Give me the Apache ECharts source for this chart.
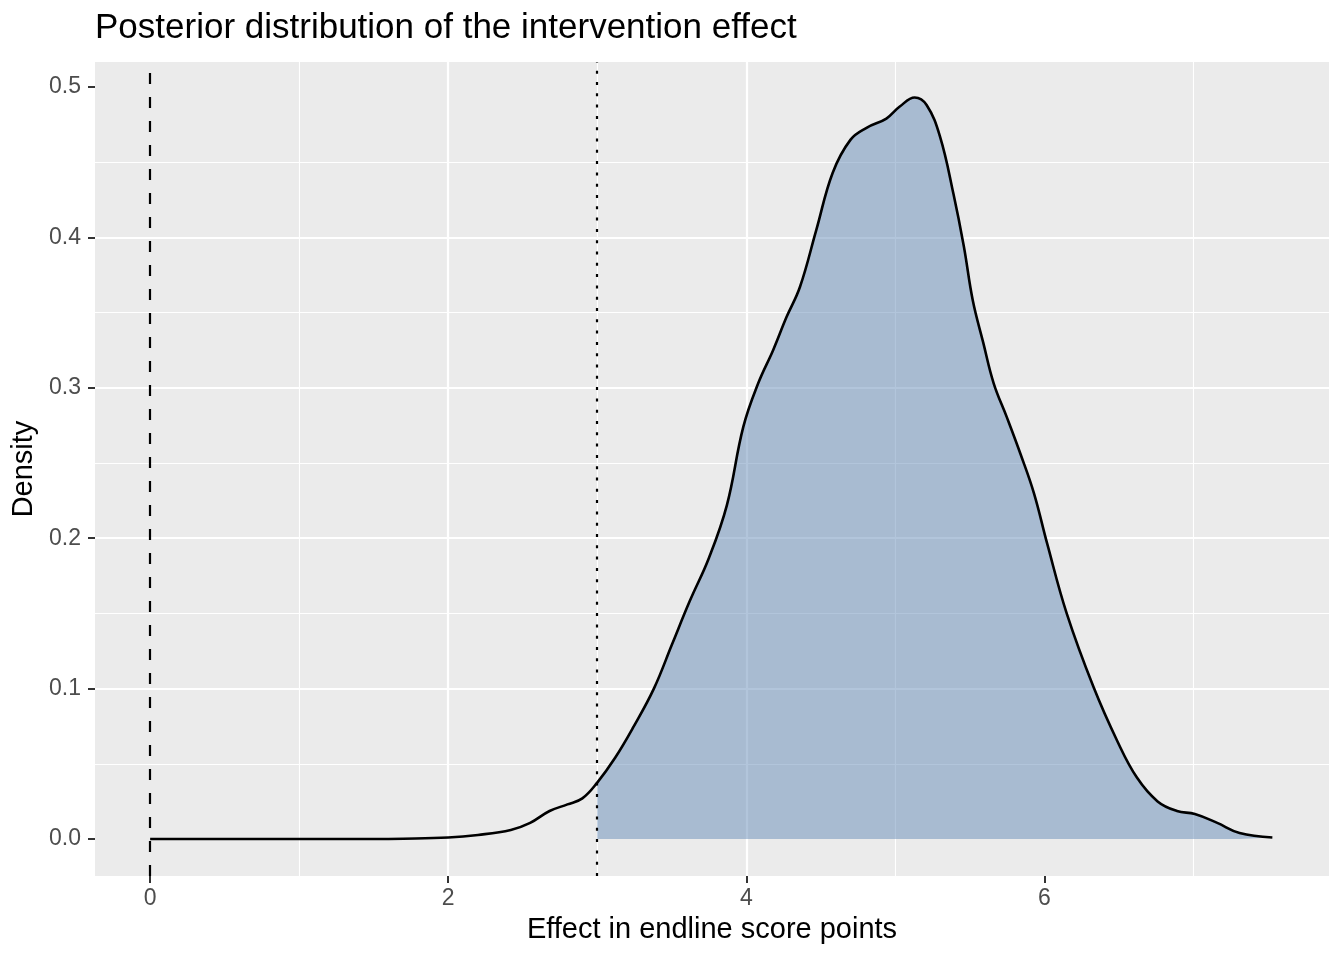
<!DOCTYPE html>
<html><head><meta charset="utf-8">
<script src="https://cdn.jsdelivr.net/npm/echarts@6/dist/echarts.min.js"></script>
<style>html,body{margin:0;padding:0;background:#fff}#c{width:1344px;height:960px}</style>
</head><body><div id="c"></div>
<script>
// Effect values (x) and posterior density (y)
const effectX = [0, 0.5, 1.0, 1.5, 1.7, 2.0, 2.2, 2.42, 2.55, 2.68, 2.8, 2.9, 3.0, 3.12, 3.24, 3.38, 3.5, 3.62, 3.75, 3.87, 3.98, 4.08, 4.18, 4.27, 4.36, 4.47, 4.58, 4.70, 4.81, 4.94, 5.03, 5.13, 5.21, 5.30, 5.39, 5.46, 5.52, 5.59, 5.66, 5.75, 5.84, 5.93, 6.02, 6.15, 6.33, 6.49, 6.62, 6.76, 6.89, 7.01, 7.16, 7.31, 7.53];
const density = [0, 0, 0, 0, 0.0002, 0.001, 0.0027, 0.006, 0.0107, 0.0186, 0.023, 0.027, 0.0375, 0.054, 0.074, 0.100, 0.129, 0.158, 0.187, 0.222, 0.274, 0.303, 0.325, 0.347, 0.367, 0.405, 0.443, 0.465, 0.473, 0.479, 0.487, 0.493, 0.488, 0.467, 0.429, 0.394, 0.358, 0.330, 0.303, 0.280, 0.256, 0.230, 0.196, 0.150, 0.101, 0.065, 0.041, 0.025, 0.0186, 0.0166, 0.0107, 0.004, 0.001];
const xTickValues = [0, 2, 4, 6];
const yTickValues = [0, 0.1, 0.2, 0.3, 0.4, 0.5];
const zeroLine = 0;
const thresholdLine = 3;
const xRange = [-0.37, 7.91];
const yRange = [-0.0246, 0.5166];

const curveData = effectX.map((x, i) => [x, density[i]]);
const fillData = curveData.filter(p => p[0] >= thresholdLine);

const font = '"Liberation Sans", Arial, Helvetica, sans-serif';
const chart = echarts.init(document.getElementById('c'));
chart.setOption({
  animation: false,
  backgroundColor: '#ffffff',
  title: {
    text: 'Posterior distribution of the intervention effect',
    left: 95, top: 11, padding: 0,
    textStyle: {fontFamily: font, fontSize: 35, fontWeight: 'normal', color: '#000'}
  },
  grid: {left: 95, right: 15, top: 62, bottom: 84, show: true, backgroundColor: '#EBEBEB', borderWidth: 0, containLabel: false},
  xAxis: {
    type: 'value', min: xRange[0], max: xRange[1], splitNumber: 4,
    name: 'Effect in endline score points', nameLocation: 'middle', nameGap: 39,
    nameTextStyle: {fontFamily: font, fontSize: 29, color: '#000'},
    axisLine: {show: false, onZero: false},
    axisTick: {show: true, inside: false, length: 7, customValues: xTickValues, lineStyle: {color: '#333333', width: 2}},
    axisLabel: {customValues: xTickValues, margin: 11, fontFamily: font, fontSize: 23, color: '#4D4D4D', formatter: v => String(v)},
    splitLine: {show: true, showMinLine: false, showMaxLine: false, lineStyle: {color: '#ffffff', width: 2.2}},
    minorTick: {show: false, splitNumber: 2},
    minorSplitLine: {show: true, lineStyle: {color: '#ffffff', width: 1.1}}
  },
  yAxis: {
    type: 'value', min: yRange[0], max: yRange[1], splitNumber: 5,
    name: 'Density', nameLocation: 'middle', nameGap: 56, nameRotate: 90,
    nameTextStyle: {fontFamily: font, fontSize: 29, color: '#000'},
    axisLine: {show: false, onZero: false},
    axisTick: {show: true, inside: false, length: 7, customValues: yTickValues, lineStyle: {color: '#333333', width: 2}},
    axisLabel: {customValues: yTickValues, margin: 14, fontFamily: font, fontSize: 23, color: '#4D4D4D', formatter: v => v.toFixed(1)},
    splitLine: {show: true, showMinLine: false, showMaxLine: false, lineStyle: {color: '#ffffff', width: 2.2}},
    minorTick: {show: false, splitNumber: 2},
    minorSplitLine: {show: true, lineStyle: {color: '#ffffff', width: 1.1}}
  },
  series: [
    {
      type: 'line', data: fillData, smooth: 0.4, symbol: 'none', silent: true, z: 2,
      lineStyle: {width: 0, opacity: 0},
      areaStyle: {color: 'rgba(101,139,183,0.5)', opacity: 1, origin: 'auto'}
    },
    {
      type: 'line', data: curveData, smooth: 0.4, symbol: 'none', silent: true, z: 3,
      lineStyle: {color: '#000', width: 2.6},
      markLine: {
        silent: true, symbol: ['none', 'none'], label: {show: false}, animation: false,
        data: [
          {xAxis: zeroLine, lineStyle: {type: [11, 13], color: '#000', width: 2.2}},
          {xAxis: thresholdLine, lineStyle: {type: [3, 8.3], color: '#000', width: 2.2}}
        ]
      }
    }
  ]
});
</script>
</body></html>
